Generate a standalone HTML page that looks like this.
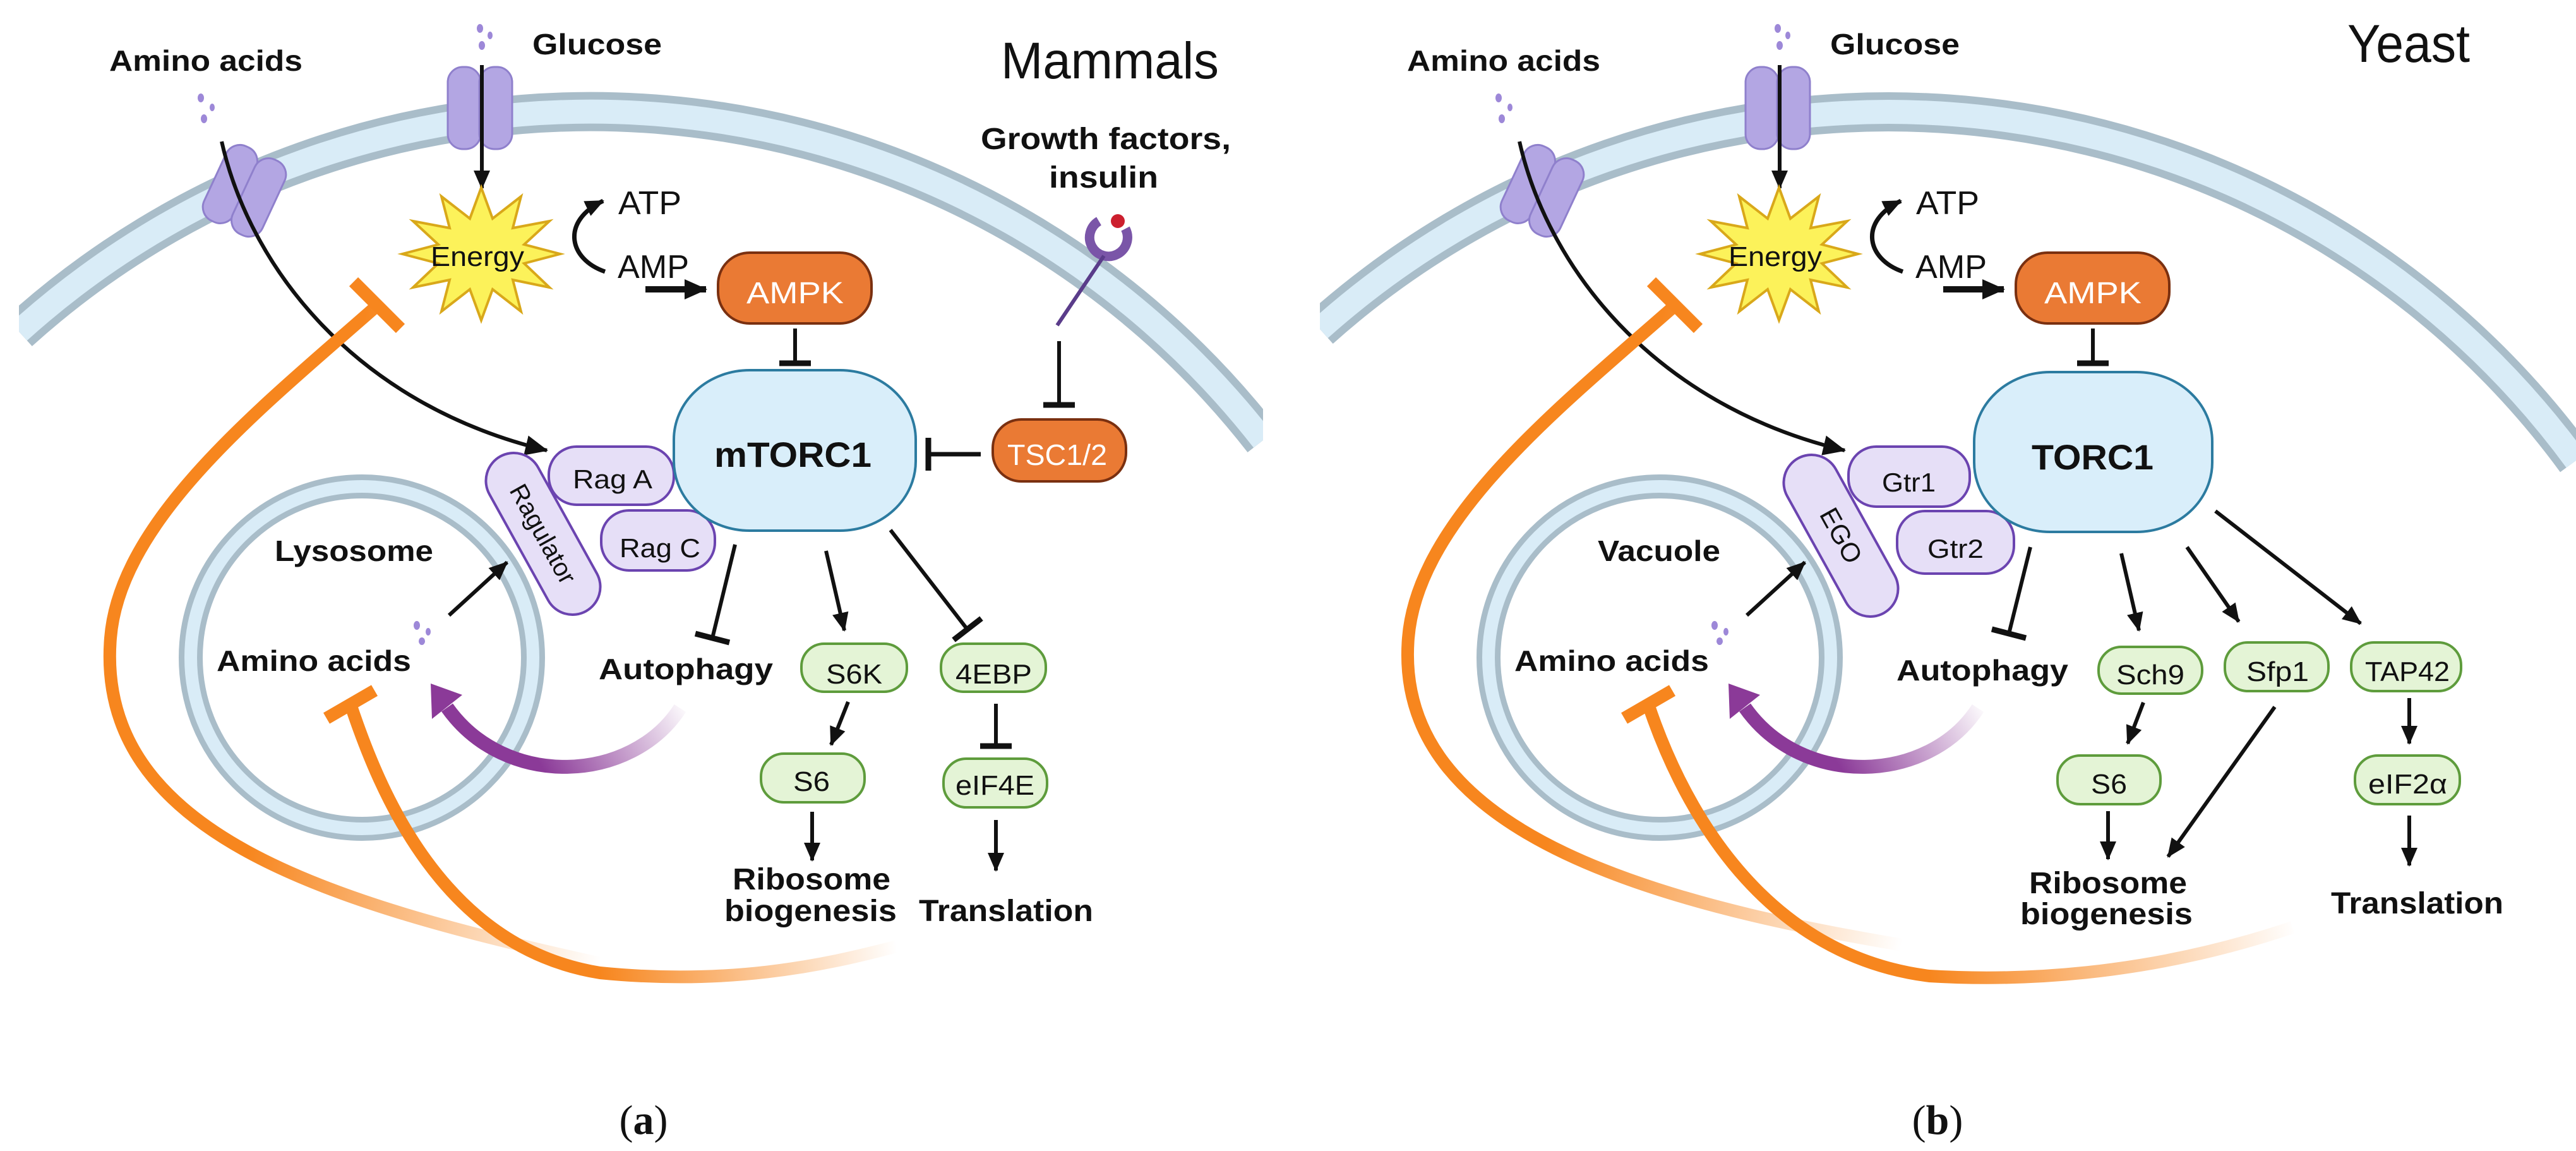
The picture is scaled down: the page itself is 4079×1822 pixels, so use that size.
<!DOCTYPE html>
<html><head><meta charset="utf-8"><style>html,body{margin:0;padding:0;background:#fff;width:4079px;height:1822px;overflow:hidden}svg{display:block}text{font-family:"Liberation Sans",Arial,sans-serif;fill:#111}</style></head>
<body>
<svg width="4079" height="1822" viewBox="0 0 4079 1822" xmlns="http://www.w3.org/2000/svg" overflow="hidden">
<defs>
<marker id="ah" markerWidth="36" markerHeight="32" refX="34" refY="16" orient="auto" markerUnits="userSpaceOnUse"><path d="M0,0 L36,16 L0,32 Z" fill="#111"/></marker>
<marker id="ahs" markerWidth="30" markerHeight="26" refX="28" refY="13" orient="auto" markerUnits="userSpaceOnUse"><path d="M0,0 L30,13 L0,26 Z" fill="#111"/></marker>
<clipPath id="cpa"><rect x="30" y="0" width="1970" height="900"/></clipPath>
<clipPath id="cpb"><rect x="35" y="0" width="1990" height="900"/></clipPath>
<linearGradient id="gA" gradientUnits="userSpaceOnUse" x1="950" y1="1525" x2="380" y2="1400"><stop offset="0" stop-color="#f7861e" stop-opacity="0"/><stop offset="1" stop-color="#f7861e"/></linearGradient>
<linearGradient id="gB" gradientUnits="userSpaceOnUse" x1="950" y1="1540" x2="1420" y2="1500"><stop offset="0" stop-color="#f7861e"/><stop offset="1" stop-color="#f7861e" stop-opacity="0"/></linearGradient>
<linearGradient id="gB2" gradientUnits="userSpaceOnUse" x1="1000" y1="1545" x2="1580" y2="1465"><stop offset="0" stop-color="#f7861e"/><stop offset="1" stop-color="#f7861e" stop-opacity="0"/></linearGradient>
<linearGradient id="gP" gradientUnits="userSpaceOnUse" x1="1085" y1="1110" x2="870" y2="1235"><stop offset="0" stop-color="#8b3a98" stop-opacity="0"/><stop offset="1" stop-color="#8b3a98"/></linearGradient>
</defs>

<!-- ================= PANEL A ================= -->
<g>
<g clip-path="url(#cpa)">
<path d="M30,525 A1350,1350 0 0 1 2000,697" fill="none" stroke="#a9bdc9" stroke-width="62"/>
<path d="M30,525 A1350,1350 0 0 1 2000,697" fill="none" stroke="#d9ecf7" stroke-width="38"/>
</g>
<circle cx="573" cy="1041" r="271" fill="none" stroke="#a9bdc9" stroke-width="38"/>
<circle cx="573" cy="1041" r="271" fill="none" stroke="#d9ecf7" stroke-width="20"/>

<rect x="709" y="106" width="52" height="130" rx="24" fill="#b3a6e3" stroke="#8f80cc" stroke-width="3"/>
<rect x="759" y="106" width="52" height="130" rx="24" fill="#b3a6e3" stroke="#8f80cc" stroke-width="3"/>
<g transform="rotate(25 387 302)"><rect x="336" y="237" width="52" height="130" rx="24" fill="#b3a6e3" stroke="#8f80cc" stroke-width="3"/><rect x="386" y="237" width="52" height="130" rx="24" fill="#b3a6e3" stroke="#8f80cc" stroke-width="3"/></g>
<g fill="#9d88d8"><ellipse cx="760" cy="45" rx="5" ry="7"/><ellipse cx="776" cy="56" rx="4" ry="6"/><ellipse cx="763" cy="72" rx="5" ry="7"/><ellipse cx="318" cy="155" rx="5" ry="7"/><ellipse cx="336" cy="170" rx="4" ry="6"/><ellipse cx="323" cy="188" rx="5" ry="7"/><ellipse cx="660" cy="990" rx="5" ry="7"/><ellipse cx="678" cy="1000" rx="4" ry="6"/><ellipse cx="668" cy="1015" rx="5" ry="6"/></g>

<text x="173" y="112" font-size="46" font-weight="bold" textLength="306" lengthAdjust="spacingAndGlyphs">Amino acids</text>
<text x="843" y="86" font-size="46" font-weight="bold" textLength="205" lengthAdjust="spacingAndGlyphs">Glucose</text>
<text x="1585" y="124" font-size="82" textLength="345" lengthAdjust="spacingAndGlyphs">Mammals</text>
<text x="1553" y="236" font-size="48" font-weight="bold" textLength="396" lengthAdjust="spacingAndGlyphs">Growth factors,</text>
<text x="1661" y="297" font-size="48" font-weight="bold" textLength="173" lengthAdjust="spacingAndGlyphs">insulin</text>

<line x1="763" y1="103" x2="763" y2="298" stroke="#111" stroke-width="6" marker-end="url(#ahs)"/>
<path d="M351,224 C395,420 560,640 866,713" fill="none" stroke="#111" stroke-width="6" marker-end="url(#ah)"/>

<polygon points="762,297 780,346 825,311 812,361 870,350 830,387 887,402 830,417 870,455 812,443 825,493 780,458 762,507 744,458 699,493 712,443 654,455 694,417 637,402 694,387 654,350 712,361 699,311 744,346" fill="#fcf25a" stroke="#d9a81a" stroke-width="4" stroke-linejoin="miter"/>
<text x="682" y="421" font-size="44" textLength="148" lengthAdjust="spacingAndGlyphs">Energy</text>
<path d="M958,430 C900,410 888,350 955,318" fill="none" stroke="#111" stroke-width="7" marker-end="url(#ahs)"/>
<text x="979" y="339" font-size="52" textLength="100" lengthAdjust="spacingAndGlyphs">ATP</text>
<text x="978" y="440" font-size="52" textLength="113" lengthAdjust="spacingAndGlyphs">AMP</text>
<line x1="1022" y1="458" x2="1118" y2="458" stroke="#111" stroke-width="10" marker-end="url(#ah)"/>

<rect x="1137" y="400" width="243" height="112" rx="50" fill="#ea7a34" stroke="#7a3010" stroke-width="4"/>
<text x="1182" y="480" font-size="48" textLength="154" lengthAdjust="spacingAndGlyphs" style="fill:#fff">AMPK</text>
<line x1="1259" y1="520" x2="1259" y2="575" stroke="#111" stroke-width="6"/><line x1="1234" y1="575" x2="1284" y2="575" stroke="#111" stroke-width="9"/>

<path d="M1782,362 A30,30 0 1 1 1740,350" fill="none" stroke="#7a55a8" stroke-width="15"/>
<circle cx="1770" cy="350" r="11" fill="#cc1f2e"/>
<line x1="1748" y1="405" x2="1674" y2="515" stroke="#5a3c8a" stroke-width="6"/>
<line x1="1677" y1="540" x2="1677" y2="640" stroke="#111" stroke-width="6"/><line x1="1652" y1="641" x2="1702" y2="641" stroke="#111" stroke-width="9"/>
<rect x="1572" y="664" width="211" height="98" rx="45" fill="#ea7a34" stroke="#7a3010" stroke-width="4"/>
<text x="1595" y="736" font-size="46" textLength="158" lengthAdjust="spacingAndGlyphs" style="fill:#fff">TSC1/2</text>
<line x1="1553" y1="719" x2="1472" y2="719" stroke="#111" stroke-width="7"/><line x1="1470" y1="693" x2="1470" y2="745" stroke="#111" stroke-width="9"/>

<g transform="rotate(61 860 845)"><rect x="720" y="801" width="280" height="88" rx="44" fill="#e6dff7" stroke="#6b44b0" stroke-width="4"/><text x="860" y="859" font-size="40" text-anchor="middle">Ragulator</text></g>
<rect x="869" y="707" width="198" height="92" rx="44" fill="#e6dff7" stroke="#6b44b0" stroke-width="4"/>
<text x="907" y="773" font-size="42" textLength="126" lengthAdjust="spacingAndGlyphs">Rag A</text>
<rect x="952" y="808" width="180" height="95" rx="44" fill="#e6dff7" stroke="#6b44b0" stroke-width="4"/>
<text x="981" y="882" font-size="42" textLength="128" lengthAdjust="spacingAndGlyphs">Rag C</text>
<rect x="1067" y="586" width="383" height="254" rx="120" ry="110" fill="#d9eefa" stroke="#2c7ba0" stroke-width="4"/>
<text x="1131" y="739" font-size="56" font-weight="bold" textLength="249" lengthAdjust="spacingAndGlyphs">mTORC1</text>

<text x="435" y="888" font-size="46" font-weight="bold" textLength="251" lengthAdjust="spacingAndGlyphs">Lysosome</text>
<text x="343" y="1062" font-size="46" font-weight="bold" textLength="308" lengthAdjust="spacingAndGlyphs">Amino acids</text>
<line x1="711" y1="974" x2="803" y2="890" stroke="#111" stroke-width="6" marker-end="url(#ahs)"/>

<line x1="1164" y1="862" x2="1129" y2="1006" stroke="#111" stroke-width="6"/><line x1="1101" y1="1003" x2="1155" y2="1017" stroke="#111" stroke-width="9"/>
<text x="948" y="1075" font-size="46" font-weight="bold" textLength="276" lengthAdjust="spacingAndGlyphs">Autophagy</text>
<line x1="1308" y1="872" x2="1337" y2="998" stroke="#111" stroke-width="6" marker-end="url(#ahs)"/>
<line x1="1410" y1="839" x2="1530" y2="994" stroke="#111" stroke-width="6"/><line x1="1510" y1="1013" x2="1554" y2="979" stroke="#111" stroke-width="9"/>
<rect x="1269" y="1019" width="167" height="76" rx="36" fill="#e4f4d6" stroke="#5e9c3c" stroke-width="4"/>
<text x="1308" y="1082" font-size="44" textLength="89" lengthAdjust="spacingAndGlyphs">S6K</text>
<rect x="1490" y="1019" width="166" height="76" rx="36" fill="#e4f4d6" stroke="#5e9c3c" stroke-width="4"/>
<text x="1513" y="1082" font-size="44" textLength="121" lengthAdjust="spacingAndGlyphs">4EBP</text>
<line x1="1343" y1="1111" x2="1316" y2="1179" stroke="#111" stroke-width="6" marker-end="url(#ahs)"/>
<line x1="1577" y1="1114" x2="1577" y2="1178" stroke="#111" stroke-width="6"/><line x1="1552" y1="1181" x2="1602" y2="1181" stroke="#111" stroke-width="9"/>
<rect x="1205" y="1193" width="164" height="77" rx="36" fill="#e4f4d6" stroke="#5e9c3c" stroke-width="4"/>
<text x="1256" y="1252" font-size="44" textLength="58" lengthAdjust="spacingAndGlyphs">S6</text>
<rect x="1494" y="1201" width="164" height="77" rx="36" fill="#e4f4d6" stroke="#5e9c3c" stroke-width="4"/>
<text x="1513" y="1258" font-size="44" textLength="125" lengthAdjust="spacingAndGlyphs">eIF4E</text>
<line x1="1286" y1="1285" x2="1286" y2="1362" stroke="#111" stroke-width="6" marker-end="url(#ahs)"/>
<line x1="1577" y1="1298" x2="1577" y2="1378" stroke="#111" stroke-width="6" marker-end="url(#ahs)"/>
<text x="1160" y="1408" font-size="48" font-weight="bold" textLength="250" lengthAdjust="spacingAndGlyphs">Ribosome</text>
<text x="1147" y="1458" font-size="48" font-weight="bold" textLength="273" lengthAdjust="spacingAndGlyphs">biogenesis</text>
<text x="1455" y="1458" font-size="48" font-weight="bold" textLength="276" lengthAdjust="spacingAndGlyphs">Translation</text>

<path d="M1077,1121 C1000,1240 800,1250 708,1120" fill="none" stroke="url(#gP)" stroke-width="22"/>
<polygon points="682,1082 732,1100 684,1138" fill="#8b3a98"/>
<path d="M950,1525 C520,1430 150,1320 175,1010 C190,820 420,640 598,483" fill="none" stroke="url(#gA)" stroke-width="20"/>
<line x1="560" y1="446" x2="634" y2="520" stroke="#f7861e" stroke-width="20"/>
<path d="M555,1115 C600,1250 700,1500 950,1540 C1150,1560 1300,1530 1420,1498" fill="none" stroke="url(#gB)" stroke-width="20"/>
<line x1="517" y1="1137" x2="593" y2="1093" stroke="#f7861e" stroke-width="20"/>

<text x="1019" y="1795" font-size="66" text-anchor="middle" style="font-family:'Liberation Serif',serif">(<tspan font-weight="bold">a</tspan>)</text>
</g>

<!-- ================= PANEL B ================= -->
<g transform="translate(2055,0)">
<g clip-path="url(#cpb)">
<path d="M35,521 A1350,1350 0 0 1 2024,729" fill="none" stroke="#a9bdc9" stroke-width="62"/>
<path d="M35,521 A1350,1350 0 0 1 2024,729" fill="none" stroke="#d9ecf7" stroke-width="38"/>
</g>
<circle cx="573" cy="1041" r="271" fill="none" stroke="#a9bdc9" stroke-width="38"/>
<circle cx="573" cy="1041" r="271" fill="none" stroke="#d9ecf7" stroke-width="20"/>

<rect x="709" y="106" width="52" height="130" rx="24" fill="#b3a6e3" stroke="#8f80cc" stroke-width="3"/>
<rect x="759" y="106" width="52" height="130" rx="24" fill="#b3a6e3" stroke="#8f80cc" stroke-width="3"/>
<g transform="rotate(25 387 302)"><rect x="336" y="237" width="52" height="130" rx="24" fill="#b3a6e3" stroke="#8f80cc" stroke-width="3"/><rect x="386" y="237" width="52" height="130" rx="24" fill="#b3a6e3" stroke="#8f80cc" stroke-width="3"/></g>
<g fill="#9d88d8"><ellipse cx="760" cy="45" rx="5" ry="7"/><ellipse cx="776" cy="56" rx="4" ry="6"/><ellipse cx="763" cy="72" rx="5" ry="7"/><ellipse cx="318" cy="155" rx="5" ry="7"/><ellipse cx="336" cy="170" rx="4" ry="6"/><ellipse cx="323" cy="188" rx="5" ry="7"/><ellipse cx="660" cy="990" rx="5" ry="7"/><ellipse cx="678" cy="1000" rx="4" ry="6"/><ellipse cx="668" cy="1015" rx="5" ry="6"/></g>

<text x="173" y="112" font-size="46" font-weight="bold" textLength="306" lengthAdjust="spacingAndGlyphs">Amino acids</text>
<text x="843" y="86" font-size="46" font-weight="bold" textLength="205" lengthAdjust="spacingAndGlyphs">Glucose</text>
<text x="1662" y="98" font-size="84" textLength="194" lengthAdjust="spacingAndGlyphs">Yeast</text>

<line x1="763" y1="103" x2="763" y2="298" stroke="#111" stroke-width="6" marker-end="url(#ahs)"/>
<path d="M351,224 C395,420 560,640 866,713" fill="none" stroke="#111" stroke-width="6" marker-end="url(#ah)"/>

<polygon points="762,297 780,346 825,311 812,361 870,350 830,387 887,402 830,417 870,455 812,443 825,493 780,458 762,507 744,458 699,493 712,443 654,455 694,417 637,402 694,387 654,350 712,361 699,311 744,346" fill="#fcf25a" stroke="#d9a81a" stroke-width="4"/>
<text x="682" y="421" font-size="44" textLength="148" lengthAdjust="spacingAndGlyphs">Energy</text>
<path d="M958,430 C900,410 888,350 955,318" fill="none" stroke="#111" stroke-width="7" marker-end="url(#ahs)"/>
<text x="979" y="339" font-size="52" textLength="100" lengthAdjust="spacingAndGlyphs">ATP</text>
<text x="978" y="440" font-size="52" textLength="113" lengthAdjust="spacingAndGlyphs">AMP</text>
<line x1="1022" y1="458" x2="1118" y2="458" stroke="#111" stroke-width="10" marker-end="url(#ah)"/>

<rect x="1137" y="400" width="243" height="112" rx="50" fill="#ea7a34" stroke="#7a3010" stroke-width="4"/>
<text x="1182" y="480" font-size="48" textLength="154" lengthAdjust="spacingAndGlyphs" style="fill:#fff">AMPK</text>
<line x1="1259" y1="520" x2="1259" y2="575" stroke="#111" stroke-width="6"/><line x1="1234" y1="575" x2="1284" y2="575" stroke="#111" stroke-width="9"/>

<g transform="rotate(61 860 848)"><rect x="720" y="804" width="280" height="88" rx="44" fill="#e6dff7" stroke="#6b44b0" stroke-width="4"/><text x="860" y="862" font-size="42" text-anchor="middle">EGO</text></g>
<rect x="872" y="707" width="192" height="95" rx="44" fill="#e6dff7" stroke="#6b44b0" stroke-width="4"/>
<text x="925" y="778" font-size="42" textLength="85" lengthAdjust="spacingAndGlyphs">Gtr1</text>
<rect x="949" y="809" width="185" height="99" rx="44" fill="#e6dff7" stroke="#6b44b0" stroke-width="4"/>
<text x="997" y="883" font-size="42" textLength="89" lengthAdjust="spacingAndGlyphs">Gtr2</text>
<rect x="1071" y="589" width="377" height="253" rx="120" ry="110" fill="#d9eefa" stroke="#2c7ba0" stroke-width="4"/>
<text x="1162" y="743" font-size="56" font-weight="bold" textLength="193" lengthAdjust="spacingAndGlyphs">TORC1</text>

<text x="475" y="888" font-size="46" font-weight="bold" textLength="194" lengthAdjust="spacingAndGlyphs">Vacuole</text>
<text x="343" y="1062" font-size="46" font-weight="bold" textLength="308" lengthAdjust="spacingAndGlyphs">Amino acids</text>
<line x1="711" y1="974" x2="803" y2="890" stroke="#111" stroke-width="6" marker-end="url(#ahs)"/>

<line x1="1160" y1="866" x2="1127" y2="999" stroke="#111" stroke-width="6"/><line x1="1099" y1="996" x2="1153" y2="1010" stroke="#111" stroke-width="9"/>
<text x="948" y="1077" font-size="46" font-weight="bold" textLength="272" lengthAdjust="spacingAndGlyphs">Autophagy</text>
<line x1="1304" y1="876" x2="1332" y2="998" stroke="#111" stroke-width="6" marker-end="url(#ahs)"/>
<line x1="1408" y1="866" x2="1490" y2="984" stroke="#111" stroke-width="6" marker-end="url(#ahs)"/>
<line x1="1453" y1="809" x2="1683" y2="987" stroke="#111" stroke-width="6" marker-end="url(#ahs)"/>
<rect x="1268" y="1024" width="164" height="74" rx="36" fill="#e4f4d6" stroke="#5e9c3c" stroke-width="4"/>
<text x="1296" y="1083" font-size="44" textLength="108" lengthAdjust="spacingAndGlyphs">Sch9</text>
<rect x="1468" y="1017" width="164" height="77" rx="36" fill="#e4f4d6" stroke="#5e9c3c" stroke-width="4"/>
<text x="1502" y="1078" font-size="44" textLength="99" lengthAdjust="spacingAndGlyphs">Sfp1</text>
<rect x="1668" y="1017" width="174" height="77" rx="36" fill="#e4f4d6" stroke="#5e9c3c" stroke-width="4"/>
<text x="1690" y="1078" font-size="44" textLength="134" lengthAdjust="spacingAndGlyphs">TAP42</text>
<line x1="1339" y1="1112" x2="1314" y2="1177" stroke="#111" stroke-width="6" marker-end="url(#ahs)"/>
<line x1="1547" y1="1119" x2="1378" y2="1356" stroke="#111" stroke-width="6" marker-end="url(#ahs)"/>
<line x1="1760" y1="1105" x2="1760" y2="1177" stroke="#111" stroke-width="6" marker-end="url(#ahs)"/>
<rect x="1203" y="1196" width="163" height="77" rx="36" fill="#e4f4d6" stroke="#5e9c3c" stroke-width="4"/>
<text x="1256" y="1256" font-size="44" textLength="57" lengthAdjust="spacingAndGlyphs">S6</text>
<rect x="1674" y="1196" width="166" height="77" rx="36" fill="#e4f4d6" stroke="#5e9c3c" stroke-width="4"/>
<text x="1695" y="1256" font-size="44" textLength="125" lengthAdjust="spacingAndGlyphs">eIF2α</text>
<line x1="1283" y1="1284" x2="1283" y2="1360" stroke="#111" stroke-width="6" marker-end="url(#ahs)"/>
<line x1="1760" y1="1291" x2="1760" y2="1370" stroke="#111" stroke-width="6" marker-end="url(#ahs)"/>
<text x="1158" y="1414" font-size="48" font-weight="bold" textLength="250" lengthAdjust="spacingAndGlyphs">Ribosome</text>
<text x="1144" y="1463" font-size="48" font-weight="bold" textLength="273" lengthAdjust="spacingAndGlyphs">biogenesis</text>
<text x="1636" y="1446" font-size="48" font-weight="bold" textLength="273" lengthAdjust="spacingAndGlyphs">Translation</text>

<path d="M1077,1121 C1000,1240 800,1250 708,1120" fill="none" stroke="url(#gP)" stroke-width="22"/>
<polygon points="682,1082 732,1100 684,1138" fill="#8b3a98"/>
<path d="M1080,1515 C560,1440 150,1320 175,1010 C190,820 420,640 598,483" fill="none" stroke="url(#gA)" stroke-width="20"/>
<line x1="560" y1="446" x2="634" y2="520" stroke="#f7861e" stroke-width="20"/>
<path d="M555,1115 C600,1250 720,1510 1000,1545 C1250,1560 1450,1510 1575,1468" fill="none" stroke="url(#gB2)" stroke-width="20"/>
<line x1="517" y1="1137" x2="593" y2="1093" stroke="#f7861e" stroke-width="20"/>
</g>
<text x="3068" y="1795" font-size="66" text-anchor="middle" style="font-family:'Liberation Serif',serif">(<tspan font-weight="bold">b</tspan>)</text>
</svg>
</body></html>
